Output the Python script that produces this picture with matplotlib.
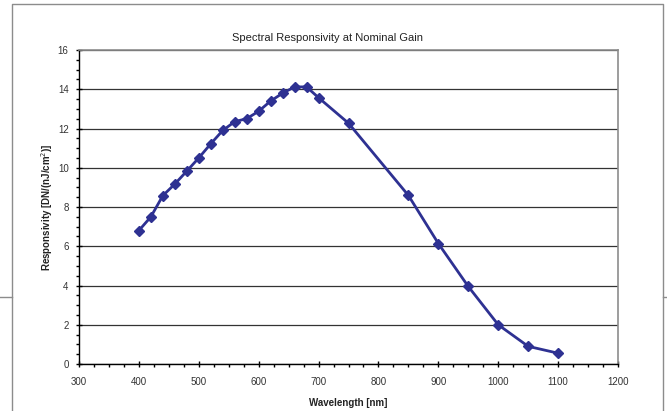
import matplotlib
matplotlib.use('Agg')
import matplotlib.pyplot as plt
from matplotlib.ticker import MultipleLocator
from matplotlib.lines import Line2D

plt.rcParams['font.family'] = ['Liberation Sans', 'DejaVu Sans']

# wavelength [nm] and responsivity
wavelength = [400, 420, 440, 460, 480, 500, 520, 540, 560, 580, 600, 620,
              640, 660, 680, 700, 750, 850, 900, 950, 1000, 1050, 1100]
responsivity = [6.8, 7.5, 8.58, 9.17, 9.83, 10.5, 11.22, 11.9, 12.35, 12.5,
                12.88, 13.4, 13.8, 14.12, 14.12, 13.57, 12.27, 8.59, 6.14,
                3.95, 2.0, 0.9, 0.55]

fig = plt.figure(figsize=(6.67, 4.11), dpi=100)

# outer chart frame (open at the bottom) and stray page rules
fig.add_artist(Line2D([12/667, 12/667, 663/667, 663/667],
                      [0, 1 - 4/411, 1 - 4/411, 0],
                      transform=fig.transFigure, color='#8c8c8c', lw=1))
fig.add_artist(Line2D([0, 12/667], [1 - 297/411] * 2,
                      transform=fig.transFigure, color='#8c8c8c', lw=1))
fig.add_artist(Line2D([663/667, 1], [1 - 297/411] * 2,
                      transform=fig.transFigure, color='#8c8c8c', lw=1))

ax = fig.add_axes([79/667, 1 - 364/411, (618 - 79)/667, (364 - 50)/411])

ax.plot(wavelength, responsivity, color='#2e3192', lw=2,
        marker='D', markersize=5.5, markerfacecolor='#2e3192',
        markeredgecolor='#2e3192', zorder=3)

ax.set_xlim(300, 1200)
ax.set_ylim(0, 16)
ax.xaxis.set_major_locator(MultipleLocator(100))
ax.xaxis.set_minor_locator(MultipleLocator(25))
ax.yaxis.set_major_locator(MultipleLocator(2))
ax.yaxis.set_minor_locator(MultipleLocator(0.5))

ax.grid(axis='y', which='major', color='#333333', lw=0.9)
ax.set_axisbelow(True)

for s in ['top', 'right']:
    ax.spines[s].set_color('#8c8c8c')
    ax.spines[s].set_linewidth(1.2)
for s in ['left', 'bottom']:
    ax.spines[s].set_color('black')
    ax.spines[s].set_linewidth(1)

ax.tick_params(which='major', direction='inout', length=5, width=1,
               labelsize=7, colors='black', labelcolor='#333333')
ax.tick_params(axis='x', which='major', pad=7)
ax.tick_params(axis='y', which='major', pad=5)
ax.tick_params(which='minor', direction='out', length=2.5, width=1)

fig.text(328/667, 1 - 38/411, 'Spectral Responsivity at Nominal Gain',
         fontsize=8, color='#222222', ha='center', va='center')
ax.set_xlabel('Wavelength [nm]', fontsize=7, fontweight='bold',
              color='#222222', labelpad=8)
ax.set_ylabel('Responsivity [DN/(nJ/cm$^2$)]', fontsize=7, fontweight='bold',
              color='#222222', labelpad=2)

fig.savefig('out.png', dpi=100)
